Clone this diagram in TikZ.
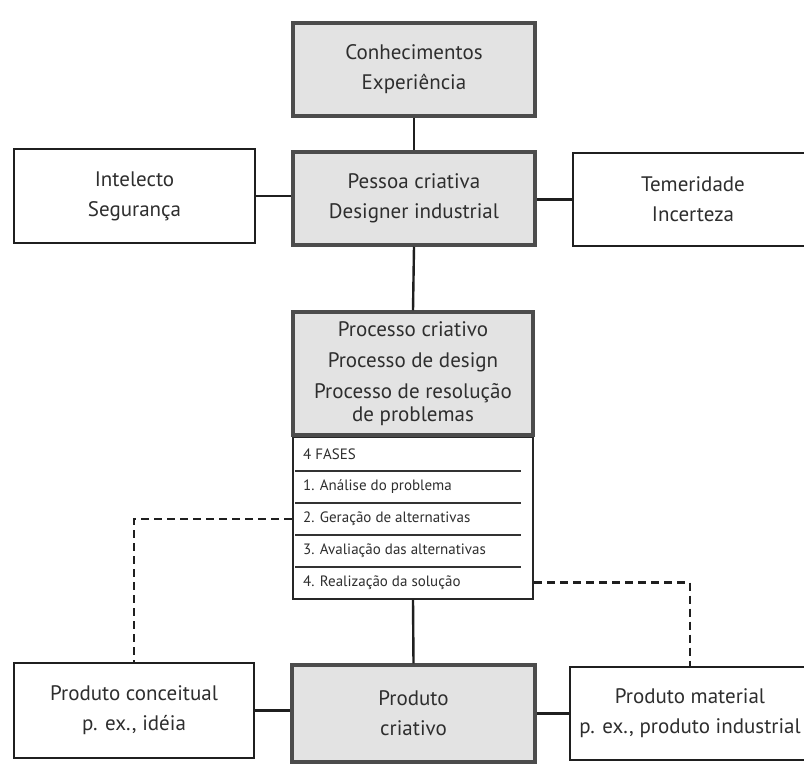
\documentclass[tikz,border=0pt]{standalone}
\usepackage{fontspec}
\setmainfont{PT Sans}
\begin{document}
\begin{tikzpicture}[x=1pt,y=-1pt,
  txt/.style={text=black!82},
  graybox/.style={draw=black!70, line width=3.5pt, fill=black!11, align=center, txt,
    font=\fontsize{21}{30}\selectfont, inner sep=0pt},
  whitebox/.style={draw=black!88, line width=2.2pt, fill=white, align=center, txt,
    font=\fontsize{21}{30}\selectfont, inner sep=0pt},
  link/.style={draw=black!88, line width=2.4pt},
  dlink/.style={draw=black!88, line width=2.2pt, dash pattern=on 8pt off 5pt},
  phase/.style={anchor=west, txt, font=\fontsize{15}{17}\selectfont, inner sep=0pt},
  sep/.style={draw=black!80, line width=1.3pt}]
\clip (0,0) rectangle (804,769);
\path[use as bounding box] (0,0) rectangle (804,769);
\fill[white] (0,0) rectangle (804,769);

% upper chain
\node[graybox, minimum width=242, minimum height=93] (know) at (414,69.5) {Conhecimentos\\Experiência};
\node[graybox, minimum width=242, minimum height=93] (person) at (414,198.5) {Pessoa criativa\\Designer industrial};
\node[whitebox, minimum width=241, minimum height=94] (intel) at (134.5,196) {Intelecto\\Segurança};
\node[whitebox, minimum width=240, minimum height=93] (temer) at (693,199.5) {Temeridade\\Incerteza};

% process and its four phases
\node[graybox, minimum width=240, minimum height=123,
  font=\fontsize{21}{23}\selectfont] (process) at (413,373.5)
  {Processo criativo\\[8pt]Processo de design\\[8pt]Processo de resolução\\de problemas};
\node[draw=black!85, line width=2.2pt, fill=white, minimum width=240, minimum height=162,
  inner sep=0pt, anchor=north] (phases) at (413,435.5) {};
\node[graybox, fill=none, minimum width=240, minimum height=123] at (413,373.5) {};
\node[phase] (f0) at (303,454) {4 FASES};
\node[phase] (f1) at (303,487) {1. Análise do problema};
\node[phase] (f2) at (303,519) {2. Geração de alternativas};
\node[phase] (f3) at (303,551) {3. Avaliação das alternativas};
\node[phase] (f4) at (303,582.5) {4. Realização da solução};
\foreach \yy in {471,503,535,567}
  \draw[sep] (295,\yy) -- (521,\yy);

% products
\node[whitebox, minimum width=240, minimum height=95] (prodc) at (134,710.5) {Produto conceitual\\p. ex., idéia};
\node[graybox, minimum width=243, minimum height=97] (prodcr) at (413.5,713.5) {Produto\\criativo};
\node[whitebox, minimum width=240, minimum height=93] (prodm) at (690,713.5) {Produto material\\p. ex., produto industrial};

% connectors
\draw[link] (know.south) -- (person.north);
\draw[link] (intel.east) -- (intel.east -| person.west);
\draw[link] (person.east |- temer.west) -- (temer.west);
\draw[link] (person.south) -- (process.north);
\draw[link] (phases.south) -- (prodcr.north);
\draw[link] (prodc.east) -- (prodc.east -| prodcr.west);
\draw[link] (prodcr.east |- prodm.west) -- (prodm.west);
\draw[dlink] (phases.west |- f2) -| (prodc.north);
\draw[dlink] (phases.east |- f4) -| (prodm.north);
\end{tikzpicture}
\end{document}
